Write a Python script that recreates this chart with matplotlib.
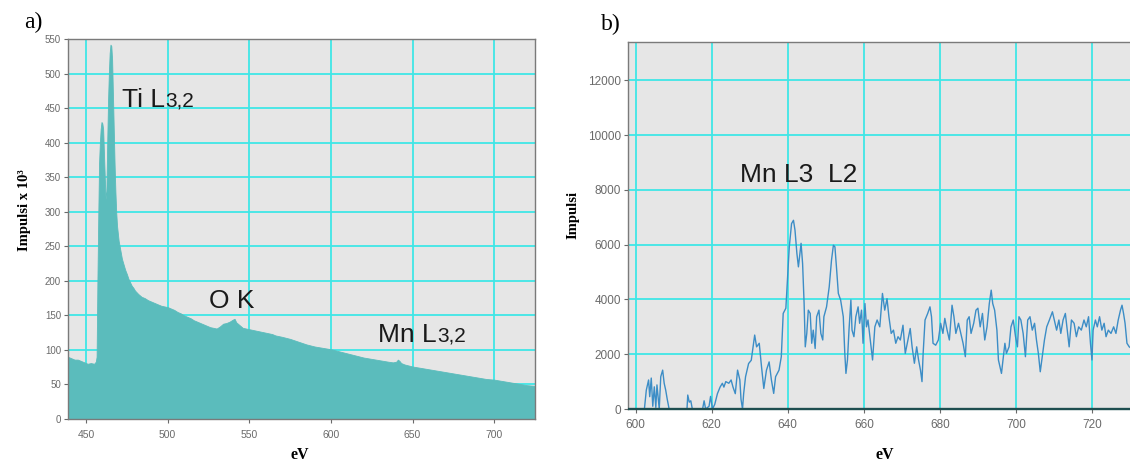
import matplotlib
matplotlib.use("Agg")
import matplotlib.pyplot as plt
import numpy as np

# ---------------- Panel a: EELS spectrum (filled) ----------------
a_ev = [439, 441, 443, 445, 447, 449, 451, 453, 455, 456, 456.5, 457, 457.5, 458, 458.5,
        459, 459.5, 460, 460.5, 461, 461.5, 462, 462.5, 463, 463.5, 464, 464.5, 465, 465.5,
        466, 466.5, 467, 467.5, 468, 468.5, 469, 470, 471, 472, 473, 474, 475, 476, 477,
        478, 479, 480, 482, 484, 486, 488, 490, 492, 494, 496, 498, 500, 502, 504, 506,
        508, 510, 512, 514, 516, 518, 520, 522, 524, 526, 528, 530, 532, 534, 536, 538,
        540, 541, 542, 544, 546, 548, 550, 552, 554, 556, 558, 560, 562, 564, 566, 568,
        570, 575, 580, 585, 590, 595, 600, 605, 610, 615, 620, 625, 630, 635, 638, 640,
        641, 642, 643, 645, 650, 655, 660, 665, 670, 675, 680, 685, 690, 695, 700, 705,
        710, 715, 720, 725]
a_counts = [90, 88, 86, 86, 84, 82, 80, 81, 80, 83, 90, 200, 290, 370, 400,
            420, 430, 428, 420, 385, 350, 318, 330, 400, 460, 500, 530, 542, 540,
            520, 470, 420, 370, 330, 300, 280, 258, 245, 232, 224, 216, 210, 203, 198,
            193, 190, 186, 181, 177, 175, 172, 170, 168, 166, 164, 163, 162, 160, 158, 155,
            153, 150, 148, 146, 143, 141, 139, 137, 135, 133, 132, 131, 134, 138, 139, 141,
            144, 145, 140, 136, 132, 131, 130, 129, 128, 127, 126, 125, 124, 123, 121, 120,
            119, 116, 112, 108, 105, 103, 101, 98, 95, 92, 89, 87, 85, 83, 82, 83,
            86, 84, 81, 79, 76, 74, 72, 70, 68, 66, 64, 62, 60, 58, 57, 55,
            53, 51, 49, 48]
a_xticks = [450, 500, 550, 600, 650, 700]
a_yticks = [0, 50, 100, 150, 200, 250, 300, 350, 400, 450, 500, 550]

# ---------------- Panel b: Mn L edge (line) ----------------
b_ev = [598, 602.3, 602.8, 603.4, 603.7, 604.1, 604.5, 604.9, 605.3, 605.6, 606.2, 606.6,
        607.1, 607.5, 607.9, 608.3, 608.8, 613.5, 613.7, 614.1, 614.5, 614.9, 617.6, 618.0,
        618.4, 619.3, 619.7, 620.2, 620.8, 621.5, 622.2, 622.8, 623.2, 623.7, 624.5, 625.1,
        625.6, 626.2, 626.8, 627.4, 627.7, 628.1, 628.4, 628.9, 629.7, 630.4, 631.3, 631.8,
        632.5, 633.1, 633.7, 634.4, 635.1, 635.7, 636.3, 636.8, 637.7, 638.3, 638.8, 639.5,
        639.9, 640.4, 641.0, 641.5, 641.9, 642.4, 642.8, 643.3, 643.5, 643.9, 644.3, 644.6,
        645.0, 645.4, 645.9, 646.3, 646.7, 647.2, 647.6, 648.2, 648.7, 649.2, 649.5, 650.2,
        650.9, 651.5, 652.0, 652.4, 652.8, 653.3, 653.9, 654.6, 655.0, 655.3, 655.7, 656.1,
        656.6, 656.9, 657.4, 657.9, 658.5, 658.9, 659.4, 659.8, 660.3, 660.7, 661.1, 661.8,
        662.3, 662.9, 663.5, 664.2, 664.9, 665.5, 666.1, 666.6, 667.2, 667.8, 668.4, 669.0,
        669.6, 670.3, 670.9, 671.6, 672.2, 672.7, 673.3, 673.9, 674.4, 674.9, 675.3, 675.6,
        676.1, 676.8, 677.4, 677.8, 678.2, 678.9, 679.6, 680.2, 680.8, 681.3, 681.9, 682.5,
        683.2, 683.7, 684.2, 684.9, 685.5, 686.1, 686.7, 687.2, 687.7, 688.2, 688.9, 689.5,
        690.0, 690.6, 691.2, 691.8, 692.4, 693.0, 693.5, 693.9, 694.4, 695.0, 695.4, 696.2,
        696.7, 697.1, 697.5, 698.2, 698.7, 699.3, 699.9, 700.4, 700.8, 701.3, 701.9, 702.5,
        703.1, 703.7, 704.3, 704.9, 705.4, 705.9, 706.4, 706.8, 707.5, 708.1, 708.8, 709.6,
        710.1, 710.7, 711.3, 711.8, 712.4, 713.0, 713.6, 714.0, 714.6, 715.3, 715.9, 716.5,
        717.2, 717.9, 718.5, 719.1, 719.6, 720.0, 720.3, 720.9, 721.4, 722.0, 722.6, 723.2,
        723.7, 724.3, 725.0, 725.7, 726.3, 726.9, 727.5, 727.9, 728.3, 728.7, 729.2, 729.8,
        730.5]
b_counts = [0, 0, 690, 1060, 450, 1130, 100, 810, 60, 880, 0, 1180,
            1420, 940, 690, 360, 0, 0, 510, 250, 300, 0, 0, 300,
            0, 100, 460, 0, 170, 560, 800, 940, 800, 1000, 940, 1060,
            800, 560, 1420, 1060, 360, 0, 560, 1180, 1660, 1780, 2700, 2270,
            2400, 1540, 750, 1420, 1720, 1060, 570, 1180, 1420, 1910, 3490, 3680,
            4700, 5920, 6770, 6890, 6530, 5680, 5190, 5800, 6050, 5310, 3850, 2270,
            2760, 3610, 3490, 2400, 2880, 2210, 3370, 3610, 2760, 2520, 3370, 3730,
            4460, 5430, 5980, 5920, 5190, 4220, 3980, 3370, 2030, 1300, 1790, 2880,
            3980, 2880, 2640, 3370, 3730, 3130, 3610, 2400, 3850, 3000, 3250, 2400,
            1790, 3000, 3250, 3000, 4220, 3610, 4030, 3370, 2760, 2880, 2400, 2640,
            2520, 3060, 2030, 2520, 2940, 2270, 1670, 2270, 1790, 1420, 1000, 2030,
            3250, 3490, 3730, 3370, 2400, 2330, 2520, 3130, 2760, 3310, 2880, 2520,
            3790, 3370, 2760, 3130, 2760, 2400, 1910, 3250, 3370, 2760, 3130, 3610,
            3680, 3000, 3490, 2520, 3000, 3850, 4340, 3850, 3610, 2880, 1790, 1300,
            1910, 2400, 2030, 2270, 3000, 3250, 2640, 2270, 3370, 3250, 2760, 1910,
            3250, 3370, 2880, 3130, 2520, 2030, 1360, 1790, 2520, 3000, 3250, 3550,
            3250, 2880, 3250, 2760, 3250, 3490, 2760, 2270, 3250, 3130, 2640, 3000,
            2880, 3250, 3000, 3370, 2400, 1790, 2880, 3250, 3000, 3370, 2880, 3130,
            2640, 2880, 2760, 3000, 2760, 3250, 3610, 3790, 3490, 3130, 2400, 2270,
            2200]
b_xticks = [600, 620, 640, 660, 680, 700, 720]
b_yticks = [0, 2000, 4000, 6000, 8000, 10000, 12000]

# ---------------- styling ----------------
BG = "#E6E6E6"
GRID = "#3FE6E6"
FILL = "#5BBCBC"
LINE = "#3C8DC6"
TICKC = "#6A6A6A"
SPINE = "#7A7A7A"
SERIF = ["Liberation Serif", "DejaVu Serif"]
SANS = ["Liberation Sans", "DejaVu Sans"]

fig = plt.figure(figsize=(11.3, 4.65), dpi=100)

def style_axes(ax, tick_fs):
    ax.set_facecolor(BG)
    ax.set_axisbelow(True)
    ax.grid(True, color=GRID, lw=1.3)
    for s in ax.spines.values():
        s.set_color(SPINE)
        s.set_linewidth(1.0)
    ax.tick_params(axis="both", direction="out", length=3, width=0.8,
                   color=TICKC, labelcolor=TICKC, labelsize=tick_fs, pad=2)
    for lab in ax.get_xticklabels() + ax.get_yticklabels():
        lab.set_family(SANS)

# Panel a
axa = fig.add_axes([0.0602, 0.0989, 0.4133, 0.8170])
axa.fill_between(a_ev, a_counts, 0, color=FILL, lw=0.6, edgecolor=FILL, zorder=2)
axa.set_xlim(439, 725)
axa.set_ylim(0, 550)
axa.set_xticks(a_xticks)
axa.set_yticks(a_yticks)
style_axes(axa, 7)
axa.tick_params(axis="x", labelsize=7.5, pad=5)

def label_with_sub(ax, x, y, main, sub, fs_main, fs_sub):
    t = ax.text(x, y, main, fontsize=fs_main, family=SANS, color="#1a1a1a",
                ha="left", va="baseline", zorder=5)
    ax.annotate(sub, xy=(1, 0), xycoords=t, xytext=(0.5, 1.2),
                textcoords="offset points", fontsize=fs_sub, family=SANS,
                color="#1a1a1a", ha="left", va="bottom", zorder=5)
    return t

label_with_sub(axa, 472.0, 452, "Ti L", "3,2", 19, 15)
axa.text(525.3, 161, "O K", fontsize=19, family=SANS, color="#1a1a1a",
         ha="left", va="baseline", zorder=5)
label_with_sub(axa, 628.7, 111, "Mn L", "3,2", 19, 15)

# Panel b
axb = fig.add_axes([0.5558, 0.1204, 0.4442, 0.7893])
axb.plot(b_ev, b_counts, color=LINE, lw=1.0, zorder=3)
axb.axhline(0, color="#1E4E50", lw=2.4, zorder=4)
axb.set_xlim(598, 730)
axb.set_ylim(0, 13400)
axb.set_xticks(b_xticks)
axb.set_yticks(b_yticks)
style_axes(axb, 8.5)
axb.spines["right"].set_visible(False)
axb.spines["bottom"].set_color("#1E4E50")
axb.tick_params(axis="x", pad=4)
axb.text(627.4, 8290, "Mn L3  L2", fontsize=19, family=SANS, color="#1a1a1a",
         ha="left", va="baseline", zorder=5)

# Panel letters and axis titles
fig.text(33 / 1130, 1 - 22 / 465, "a)", fontsize=17, family=SERIF, ha="center", va="center")
fig.text(611 / 1130, 1 - 24 / 465, "b)", fontsize=17, family=SERIF, ha="center", va="center")
fig.text(25 / 1130, 1 - 210 / 465, "Impulsi x 10³", fontsize=10.5, family=SERIF,
         fontweight="bold", rotation=90, ha="center", va="center")
fig.text(300 / 1130, 1 - 455 / 465, "eV", fontsize=11.5, family=SERIF,
         fontweight="bold", ha="center", va="center")
fig.text(573 / 1130, 1 - 215 / 465, "Impulsi", fontsize=10.5, family=SERIF,
         fontweight="bold", rotation=90, ha="center", va="center")
fig.text(885 / 1130, 1 - 455 / 465, "eV", fontsize=11.5, family=SERIF,
         fontweight="bold", ha="center", va="center")

fig.savefig("out.png", dpi=100)
